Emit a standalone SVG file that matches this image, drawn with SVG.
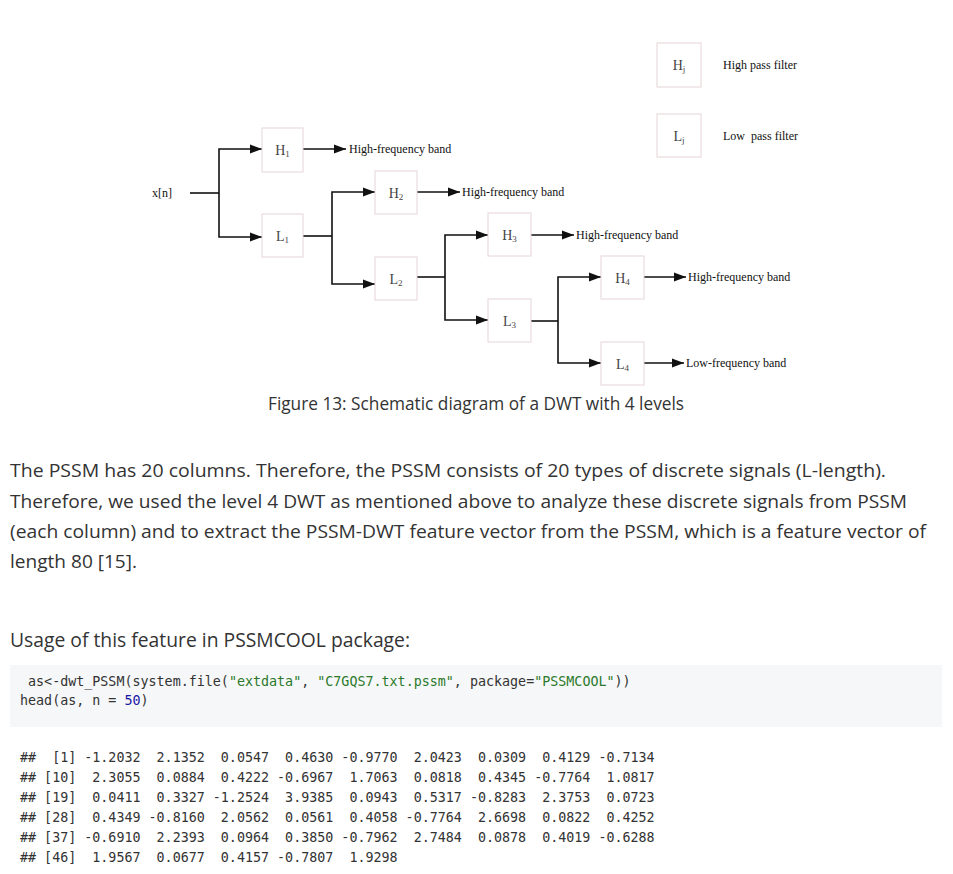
<svg xmlns="http://www.w3.org/2000/svg" width="953" height="874" viewBox="0 0 953 874">
<style>
.box{fill:#fff;stroke:#e6d6d6;stroke-width:1}
.lbl{font-family:"Liberation Serif","Times New Roman",serif;font-size:14px;fill:#444;text-anchor:middle}
.sub{font-size:9px}
.band{font-family:"Liberation Serif","Times New Roman",serif;font-size:12px;fill:#111}
.wire{fill:none;stroke:#111;stroke-width:1.6}
.arr{marker-end:url(#ah)}
.body{font-family:"Open Sans","Noto Sans","Liberation Sans",sans-serif;fill:#333}
.mono{font-family:"DejaVu Sans Mono","Liberation Mono",monospace;font-size:13.35px;fill:#333}
.str{fill:#2b7a2b}
.num{fill:#1a1aa6}
</style>
<defs>
<marker id="ah" markerUnits="userSpaceOnUse" markerWidth="12" markerHeight="10" refX="12" refY="5" orient="auto">
<path d="M0,0.5 L12,5 L0,9.5 z" fill="#111"/>
</marker>
</defs>
<rect width="953" height="874" fill="#fff"/>

<g id="input">
<text class="band" x="152" y="197">x[n]</text>
</g>

<g id="connectors">
<path class="wire" d="M190,193 H219"/>
<path class="wire arr" d="M219,193 V149 H262"/>
<path class="wire arr" d="M219,193 V237 H262"/>
<path class="wire arr" d="M303,149 H346"/>
<path class="wire" d="M303,236 H332"/>
<path class="wire arr" d="M332,236 V192 H375"/>
<path class="wire arr" d="M332,236 V284 H375"/>
<path class="wire arr" d="M417,192 H460"/>
<path class="wire" d="M417,277 H445"/>
<path class="wire arr" d="M445,277 V235 H488"/>
<path class="wire arr" d="M445,277 V320 H488"/>
<path class="wire arr" d="M531,235 H574"/>
<path class="wire" d="M531,321 H558"/>
<path class="wire arr" d="M558,321 V277 H601"/>
<path class="wire arr" d="M558,321 V363 H601"/>
<path class="wire arr" d="M644,277 H686"/>
<path class="wire arr" d="M644,363 H684"/>
</g>

<g id="H1"><rect class="box" x="262" y="128" width="41" height="44"/><text class="lbl" x="282.5" y="155">H<tspan class="sub" dy="2">1</tspan></text></g>
<g id="L1"><rect class="box" x="262" y="214" width="41" height="43"/><text class="lbl" x="282.5" y="241">L<tspan class="sub" dy="2">1</tspan></text></g>
<g id="H2"><rect class="box" x="375" y="171" width="42" height="43"/><text class="lbl" x="396" y="198">H<tspan class="sub" dy="2">2</tspan></text></g>
<g id="L2"><rect class="box" x="375" y="257" width="42" height="43"/><text class="lbl" x="396" y="284">L<tspan class="sub" dy="2">2</tspan></text></g>
<g id="H3"><rect class="box" x="488" y="213" width="43" height="43"/><text class="lbl" x="509.5" y="240">H<tspan class="sub" dy="2">3</tspan></text></g>
<g id="L3"><rect class="box" x="488" y="299" width="43" height="43"/><text class="lbl" x="509.5" y="326">L<tspan class="sub" dy="2">3</tspan></text></g>
<g id="H4"><rect class="box" x="601" y="256" width="43" height="43"/><text class="lbl" x="622.5" y="283">H<tspan class="sub" dy="2">4</tspan></text></g>
<g id="L4"><rect class="box" x="601" y="342" width="43" height="43"/><text class="lbl" x="622.5" y="369">L<tspan class="sub" dy="2">4</tspan></text></g>

<g id="bands">
<text class="band" x="349" y="153">High-frequency band</text>
<text class="band" x="462" y="196">High-frequency band</text>
<text class="band" x="576" y="239">High-frequency band</text>
<text class="band" x="688" y="281">High-frequency band</text>
<text class="band" x="686" y="367">Low-frequency band</text>
</g>

<g id="legend-H"><rect class="box" x="657" y="43" width="44" height="44"/><text class="lbl" x="679" y="70">H<tspan class="sub" dy="2">j</tspan></text><text class="band" x="723" y="69">High pass filter</text></g>
<g id="legend-L"><rect class="box" x="657" y="114" width="44" height="43"/><text class="lbl" x="679" y="141">L<tspan class="sub" dy="2">j</tspan></text><text class="band" x="723" y="140" xml:space="preserve">Low  pass filter</text></g>

<g id="caption">
<text class="body" x="268" y="410" font-size="17.5" textLength="416" lengthAdjust="spacingAndGlyphs">Figure 13: Schematic diagram of a DWT with 4 levels</text>
</g>

<g id="paragraph" font-size="19">
<text class="body" x="10" y="477" textLength="876" lengthAdjust="spacingAndGlyphs">The PSSM has 20 columns. Therefore, the PSSM consists of 20 types of discrete signals (L-length).</text>
<text class="body" x="10" y="508" textLength="897" lengthAdjust="spacingAndGlyphs">Therefore, we used the level 4 DWT as mentioned above to analyze these discrete signals from PSSM</text>
<text class="body" x="10" y="538" textLength="916" lengthAdjust="spacingAndGlyphs">(each column) and to extract the PSSM-DWT feature vector from the PSSM, which is a feature vector of</text>
<text class="body" x="10" y="568" textLength="127" lengthAdjust="spacingAndGlyphs">length 80 [15].</text>
</g>

<g id="heading">
<text class="body" x="10" y="647" font-size="20.5" textLength="400" lengthAdjust="spacingAndGlyphs">Usage of this feature in PSSMCOOL package:</text>
</g>

<g id="code">
<rect x="10" y="665" width="932" height="62" fill="#f6f7f8"/>
<text class="mono" x="20" y="686" xml:space="preserve"> as&lt;-dwt_PSSM(system.file(<tspan class="str">"extdata"</tspan>, <tspan class="str">"C7GQS7.txt.pssm"</tspan>, package=<tspan class="str">"PSSMCOOL"</tspan>))</text>
<text class="mono" x="20" y="705" xml:space="preserve">head(as, n = <tspan class="num">50</tspan>)</text>
</g>

<g id="output">
<text class="mono" x="20" y="762" xml:space="preserve">##  [1] -1.2032  2.1352  0.0547  0.4630 -0.9770  2.0423  0.0309  0.4129 -0.7134</text>
<text class="mono" x="20" y="782" xml:space="preserve">## [10]  2.3055  0.0884  0.4222 -0.6967  1.7063  0.0818  0.4345 -0.7764  1.0817</text>
<text class="mono" x="20" y="802" xml:space="preserve">## [19]  0.0411  0.3327 -1.2524  3.9385  0.0943  0.5317 -0.8283  2.3753  0.0723</text>
<text class="mono" x="20" y="822" xml:space="preserve">## [28]  0.4349 -0.8160  2.0562  0.0561  0.4058 -0.7764  2.6698  0.0822  0.4252</text>
<text class="mono" x="20" y="842" xml:space="preserve">## [37] -0.6910  2.2393  0.0964  0.3850 -0.7962  2.7484  0.0878  0.4019 -0.6288</text>
<text class="mono" x="20" y="862" xml:space="preserve">## [46]  1.9567  0.0677  0.4157 -0.7807  1.9298</text>
</g>
</svg>
